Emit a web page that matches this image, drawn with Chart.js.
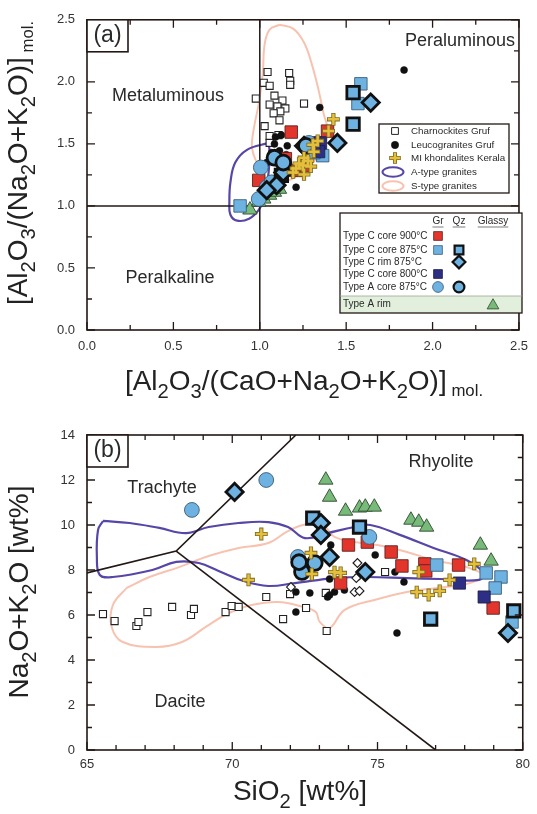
<!DOCTYPE html>
<html>
<head>
<meta charset="utf-8">
<script src="https://cdn.jsdelivr.net/npm/chart.js@4.4.0/dist/chart.umd.min.js"></script>
<style>
  html, body { margin: 0; padding: 0; background: #fff; }
  #wrap { position: relative; width: 537px; height: 814px; }
  canvas { position: absolute; left: 0; }
  #chartA { top: 0; }
  #chartB { top: 400px; }
</style>
</head>
<body>
<div id="wrap">
  <canvas id="chartA" width="537" height="400"></canvas>
  <canvas id="chartB" width="537" height="414"></canvas>
</div>
<script>
// ---------------- panel (a): A/CNK vs A/NK, points are [x, y] ----------------
const aCharnockites = [[1.045,2.079],[1.170,2.071],[1.176,2.008],[1.176,1.976],[1.023,1.992],[1.057,1.968],[0.977,1.865],[1.085,1.889],[1.131,1.849],[1.057,1.817],[1.102,1.802],[1.148,1.786],[1.119,1.762],[1.080,1.746],[1.256,1.825],[1.114,1.690],[1.028,1.643],[1.057,1.563],[1.057,1.508],[1.108,1.571]];
const aLeucogranites = [[1.835,2.095],[1.347,1.794],[1.091,1.556],[1.125,1.571],[1.085,1.500],[1.159,1.484],[1.114,1.444],[1.153,1.413],[1.040,1.349],[1.210,1.151],[1.068,1.429]];
const aKhondalites = [[1.426,1.698],[1.398,1.603],[1.335,1.524],[1.307,1.492],[1.313,1.437],[1.256,1.389],[1.278,1.365],[1.227,1.341],[1.250,1.325],[1.295,1.317],[1.210,1.302],[1.193,1.270],[1.256,1.254]];
const aCore900Gr = [[1.182,1.595],[1.392,1.603],[1.148,1.381],[1.210,1.286],[1.261,1.325],[0.994,1.206],[1.324,1.508]];
const aCore875Gr = [[1.585,1.984],[1.568,1.825],[0.886,1.000],[1.364,1.405],[1.313,1.429]];
const aCore875Qz = [[1.540,1.913],[1.540,1.659],[1.125,1.246]];
const aRim875Qz = [[1.642,1.833],[1.449,1.508],[1.136,1.270],[1.097,1.167],[1.040,1.127],[1.256,1.484]];
const aCore800Gr = [[1.352,1.508],[1.341,1.437],[1.313,1.484]];
const aACoreGr = [[1.006,1.310],[1.040,1.151],[0.994,1.056],[1.068,1.190],[1.284,1.508]];
const aACoreQz = [[1.085,1.389],[1.136,1.349],[1.267,1.484]];
const aARim = [[0.943,0.968],[0.994,1.032],[1.023,1.056],[1.057,1.087],[1.085,1.111],[1.114,1.135]];
const aATypeField = [[1.051,1.508],[0.926,1.452],[0.858,1.349],[0.830,1.190],[0.824,1.032],[0.830,0.929],[0.869,0.881],[0.938,0.897],[0.994,0.968],[1.028,1.071],[1.051,1.270],[1.057,1.429]];
const aSTypeField = [[1.114,2.460],[1.193,2.429],[1.256,2.317],[1.301,2.143],[1.341,1.929],[1.369,1.746],[1.392,1.603],[1.352,1.429],[1.239,1.270],[1.125,1.190],[1.028,1.230],[0.983,1.349],[0.955,1.468],[0.966,1.627],[0.994,1.825],[1.017,2.063],[1.028,2.302],[1.057,2.421]];
const aDivV = [[1, 0], [1, 2.5]];
const aDivH = [[0, 1], [2.5, 1]];

// ---------------- panel (b): SiO2 vs Na2O+K2O ----------------
const bCharnockites = [[65.55,6.04],[65.95,5.73],[66.70,5.51],[66.77,5.69],[67.08,6.13],[67.93,6.36],[68.58,6.00],[68.68,6.27],[69.77,6.13],[69.98,6.40],[70.22,6.36],[71.17,6.80],[71.99,6.93],[71.75,5.82],[72.54,6.31],[73.25,5.29],[75.26,7.91],[73.22,6.98]];
const bLeucogranites = [[72.19,7.02],[72.67,6.98],[72.19,6.13],[73.28,6.80],[73.39,9.11],[73.35,7.60],[73.52,7.02],[73.86,7.11],[74.92,8.67],[75.60,7.91],[75.67,5.20],[75.91,7.47],[73.35,6.89],[74.31,7.69]];
const bKhondalites = [[71.00,9.60],[70.56,7.56],[72.71,8.76],[72.74,7.82],[73.52,7.91],[73.73,7.87],[76.42,7.91],[76.35,7.02],[76.76,6.89],[77.14,7.07],[77.48,7.56],[78.33,8.27]];
const bCore900Gr = [[74.00,9.11],[74.65,9.24],[75.47,8.80],[75.84,8.18],[76.63,8.27],[76.66,7.96],[77.79,8.22],[78.98,6.31],[73.73,7.42]];
const bCore875Gr = [[77.04,8.22],[78.74,7.87],[79.25,7.69],[79.05,7.20],[79.63,5.69]];
const bCore875Qz = [[72.77,10.31],[74.38,9.91],[76.83,5.82],[79.69,6.18]];
const bRim875Qz = [[70.08,11.47],[73.05,10.09],[73.05,9.56],[73.35,8.58],[74.58,7.91],[79.49,5.20]];
const bCore800Gr = [[77.82,7.42],[78.67,6.80]];
const bACoreGr = [[71.17,12.00],[68.61,10.67],[74.72,9.47],[72.26,8.58]];
const bACoreQz = [[72.40,7.91],[72.84,8.31],[72.30,8.35]];
const bARim = [[73.22,12.00],[73.35,11.24],[73.90,10.62],[74.38,10.76],[74.58,10.80],[74.89,10.80],[76.15,10.22],[76.42,10.13],[76.69,9.91],[78.54,9.11],[78.91,8.40]];
const bOpenDiamonds = [[74.31,8.31],[74.27,7.64],[74.21,7.02],[74.38,7.07],[72.02,7.24]];
const bATypeField = [[65.55,10.18],[66.47,10.09],[67.49,9.87],[68.41,9.64],[69.19,9.91],[70.22,10.09],[71.24,10.13],[71.92,9.91],[72.50,9.42],[73.28,9.64],[74.21,9.91],[74.75,10.00],[75.77,9.56],[76.93,8.98],[78.06,8.44],[78.64,7.87],[78.50,7.56],[77.14,7.60],[76.01,7.64],[74.65,7.69],[73.52,7.64],[72.16,7.42],[71.24,7.29],[70.39,7.51],[69.53,7.96],[68.85,8.31],[68.07,8.36],[67.25,8.00],[65.89,7.69],[65.44,7.78],[65.34,8.58],[65.38,9.78]];
const bSTypeField = [[66.36,7.20],[67.15,7.69],[68.17,8.13],[69.19,8.62],[70.22,8.98],[71.24,9.20],[71.92,9.73],[72.60,10.04],[73.18,9.91],[73.52,9.47],[74.21,9.24],[74.99,9.11],[76.01,8.80],[76.93,8.44],[78.06,8.13],[78.64,7.73],[78.06,7.38],[77.04,7.20],[76.01,7.02],[74.89,6.67],[73.86,6.22],[73.35,5.42],[73.01,5.69],[72.88,6.13],[72.43,6.36],[71.58,6.58],[70.66,6.44],[69.88,6.09],[69.09,5.47],[68.27,4.80],[67.39,4.58],[66.23,4.80],[65.85,5.47],[65.89,6.44]];
const bTasUpper = [[65, 7.87], [68.07, 8.84], [72.19, 14]];
const bTasLower = [[68.07, 8.84], [77, 0]];

const FONT = '"Liberation Sans", Arial, Helvetica, sans-serif';
const INK = '#231815';
const RED = '#e3352c', LBLUE = '#6eb2e2', NAVY = '#2d2f84', GREEN = '#77ba79';
const GOLD = '#e4bf3c', GOLD_EDGE = '#7d6a22', PURPLE = '#5546a8', PINK = '#f7c3b0';

function xy(arr) { return arr.map(p => ({ x: p[0], y: p[1] })); }

function pointSet(data, style, r, fill, stroke, lw) {
  return {
    data: xy(data), showLine: false,
    pointStyle: style, pointRadius: r, pointHoverRadius: r,
    pointBackgroundColor: fill, pointBorderColor: stroke,
    pointBorderWidth: lw, pointHoverBorderWidth: lw
  };
}
function lineSet(data, color, lw, tension, closed) {
  const d = closed ? data.concat([data[0]]) : data;
  return {
    data: xy(d), showLine: true, fill: false, tension: tension,
    borderColor: color, borderWidth: lw, pointRadius: 0, pointHoverRadius: 0
  };
}
// crosses: dark underlay + gold stroke
function crossSets(data) {
  return [pointSet(data, 'cross', 5.6, GOLD, GOLD, 2.5), pointSet(data, 'cross', 6.4, GOLD_EDGE, GOLD_EDGE, 4.2)];
}

function marker(ctx, kind, x, y, r, fill, stroke, lw) {
  ctx.save();
  ctx.beginPath();
  if (kind === 'rect') { const s = r * Math.SQRT1_2; ctx.rect(x - s, y - s, 2 * s, 2 * s); }
  else if (kind === 'rectRot') { ctx.moveTo(x, y - r); ctx.lineTo(x + r, y); ctx.lineTo(x, y + r); ctx.lineTo(x - r, y); ctx.closePath(); }
  else if (kind === 'circle') { ctx.arc(x, y, r, 0, Math.PI * 2); }
  else if (kind === 'triangle') {
    for (let i = 0; i < 3; i++) {
      const a = i * 2 * Math.PI / 3;
      const px = x + Math.sin(a) * r, py = y - Math.cos(a) * r;
      i ? ctx.lineTo(px, py) : ctx.moveTo(px, py);
    }
    ctx.closePath();
  }
  else if (kind === 'cross') { ctx.moveTo(x - r, y); ctx.lineTo(x + r, y); ctx.moveTo(x, y - r); ctx.lineTo(x, y + r); }
  else if (kind === 'ellipse') { ctx.ellipse(x, y, r, r * 0.45, 0, 0, Math.PI * 2); }
  if (fill) { ctx.fillStyle = fill; ctx.fill(); }
  if (stroke && lw) { ctx.strokeStyle = stroke; ctx.lineWidth = lw; ctx.stroke(); }
  ctx.restore();
}

// text with subscripts: parts = [text, 'n' | 's' (subscript) | 'm' (small subscript)]
function richText(ctx, parts, x, y, size, rotate) {
  const fs = k => (k === 'n' ? size : k === 's' ? size * 0.72 : size * 0.6);
  const off = k => (k === 'n' ? 0 : k === 's' ? size * 0.3 : size * 0.22);
  ctx.save();
  ctx.translate(x, y);
  if (rotate) ctx.rotate(-Math.PI / 2);
  ctx.textAlign = 'left';
  ctx.textBaseline = 'alphabetic';
  ctx.fillStyle = '#222';
  let w = 0;
  parts.forEach(p => { ctx.font = fs(p[1]) + 'px ' + FONT; w += ctx.measureText(p[0]).width; });
  let cx = -w / 2;
  parts.forEach(p => {
    ctx.font = fs(p[1]) + 'px ' + FONT;
    ctx.fillText(p[0], cx, off(p[1]));
    cx += ctx.measureText(p[0]).width;
  });
  ctx.restore();
}

function label(ctx, text, x, y, size, align) {
  ctx.save();
  ctx.font = size + 'px ' + FONT;
  ctx.fillStyle = '#2a2a2a';
  ctx.textAlign = align || 'center';
  ctx.textBaseline = 'middle';
  ctx.fillText(text, x, y);
  ctx.restore();
}

function frameTicks(chart, xMajor, xMinor, yMajor, yMinor) {
  const { ctx, chartArea: a, scales: { x, y } } = chart;
  ctx.save();
  ctx.strokeStyle = INK;
  ctx.lineWidth = 1.3;
  ctx.beginPath();
  const isMajor = (v, m) => Math.abs(v / m - Math.round(v / m)) < 1e-6;
  for (let v = x.min; v <= x.max + 1e-9; v += xMinor) {
    const len = isMajor(v - x.min, xMajor) ? 8 : 5;
    const px = x.getPixelForValue(v);
    ctx.moveTo(px, a.bottom); ctx.lineTo(px, a.bottom - len);
    ctx.moveTo(px, a.top); ctx.lineTo(px, a.top + len);
  }
  for (let v = y.min; v <= y.max + 1e-9; v += yMinor) {
    const len = isMajor(v - y.min, yMajor) ? 8 : 5;
    const py = y.getPixelForValue(v);
    ctx.moveTo(a.left, py); ctx.lineTo(a.left + len, py);
    ctx.moveTo(a.right, py); ctx.lineTo(a.right - len, py);
  }
  ctx.stroke();
  ctx.lineWidth = 1.6;
  ctx.strokeRect(a.left, a.top, a.right - a.left, a.bottom - a.top);
  ctx.restore();
}

function panelTag(ctx, a, text) {
  ctx.save();
  ctx.fillStyle = '#fff';
  ctx.fillRect(a.left, a.top, 41, 32);
  ctx.strokeStyle = INK; ctx.lineWidth = 1.6;
  ctx.strokeRect(a.left, a.top, 41, 32);
  ctx.restore();
  label(ctx, text, a.left + 20.5, a.top + 16, 23);
}

function scaleOpts(min, max, step, fmt, isY, size, pad) {
  return {
    type: 'linear', min: min, max: max,
    grid: { display: false, drawTicks: false },
    border: { display: false },
    ticks: { stepSize: step, callback: fmt, color: '#333', padding: pad, autoSkip: false, maxRotation: 0,
             font: { family: FONT, size: 13 } },
    afterFit: s => { if (isY) s.width = size; else s.height = size; }
  };
}

const baseOptions = {
  responsive: false, animation: false, events: [],
  plugins: { legend: { display: false }, tooltip: { enabled: false } }
};

// ---------------- chart (a) ----------------
const decorA = {
  id: 'decorA',
  beforeDatasetsDraw(chart) {
    const ctx = chart.ctx;
    label(ctx, 'Peraluminous', 460, 41, 18);
    label(ctx, 'Metaluminous', 168, 96, 18);
    label(ctx, 'Peralkaline', 170, 278, 18);
  },
  afterDraw(chart) {
    const ctx = chart.ctx, a = chart.chartArea;
    frameTicks(chart, 0.5, 0.25, 0.5, 0.25);
    panelTag(ctx, a, '(a)');

    // legend of reference data
    ctx.save();
    ctx.fillStyle = '#fff'; ctx.fillRect(379, 124, 130, 69);
    ctx.strokeStyle = INK; ctx.lineWidth = 1.3; ctx.strokeRect(379, 124, 130, 69);
    ctx.restore();
    marker(ctx, 'rect', 395, 131, 4.8, '#fff', '#222', 1);
    marker(ctx, 'circle', 395, 145, 3.7, '#111', '#111', 0.5);
    marker(ctx, 'cross', 395, 158, 5.8, null, GOLD_EDGE, 4);
    marker(ctx, 'cross', 395, 158, 5.1, null, GOLD, 2.3);
    marker(ctx, 'ellipse', 393, 172, 10.5, null, PURPLE, 2);
    marker(ctx, 'ellipse', 393, 186, 10.5, null, PINK, 2);
    ['Charnockites Gruf', 'Leucogranites Gruf', 'MI khondalites Kerala', 'A-type granites', 'S-type granites']
      .forEach((t, i) => label(ctx, t, 411, [131, 145, 158, 172, 186][i], 9.8, 'left'));

    // legend of inclusion types
    ctx.save();
    ctx.fillStyle = '#fff'; ctx.fillRect(340, 213, 182, 100);
    ctx.fillStyle = '#e1efdc'; ctx.fillRect(340, 296, 182, 17);
    ctx.strokeStyle = INK; ctx.lineWidth = 1.3; ctx.strokeRect(340, 213, 182, 100);
    ctx.strokeStyle = '#9aa894'; ctx.lineWidth = 0.8;
    ctx.beginPath(); ctx.moveTo(340, 296); ctx.lineTo(522, 296); ctx.stroke();
    ctx.restore();
    const hdr = [['Gr', 438], ['Qz', 459], ['Glassy', 493]];
    ctx.save();
    ctx.font = '10px ' + FONT;
    ctx.strokeStyle = '#444'; ctx.lineWidth = 0.7;
    hdr.forEach(h => {
      label(ctx, h[0], h[1], 221, 10);
      const w = ctx.measureText(h[0]).width;
      ctx.beginPath(); ctx.moveTo(h[1] - w / 2, 227); ctx.lineTo(h[1] + w / 2, 227); ctx.stroke();
    });
    ctx.restore();
    const rows = [236, 250, 262, 274, 287];
    ['Type C core 900\u00b0C', 'Type C core 875\u00b0C', 'Type C rim 875\u00b0C', 'Type C core 800\u00b0C', 'Type A core 875\u00b0C']
      .forEach((t, i) => label(ctx, t, 343, rows[i], 10, 'left'));
    label(ctx, 'Type A rim', 343, 304.5, 10, 'left');
    marker(ctx, 'rect', 438, rows[0], 6.2, RED, '#5b2320', 0.8);
    marker(ctx, 'rect', 438, rows[1], 6.2, LBLUE, '#3a5f7a', 0.8);
    marker(ctx, 'rect', 459, rows[1], 6.2, LBLUE, '#111', 2.2);
    marker(ctx, 'rectRot', 459, rows[2], 6.4, LBLUE, '#111', 2.2);
    marker(ctx, 'rect', 438, rows[3], 6.2, NAVY, '#1a1a40', 0.8);
    marker(ctx, 'circle', 438, rows[4], 5.4, LBLUE, '#3c5a73', 0.8);
    marker(ctx, 'circle', 459, rows[4], 5.4, LBLUE, '#111', 2.2);
    marker(ctx, 'triangle', 493, 305.5, 6.8, GREEN, '#2f4a2f', 0.8);

    // axis titles
    richText(ctx, [['[Al', 'n'], ['2', 's'], ['O', 'n'], ['3', 's'], ['/(CaO+Na', 'n'], ['2', 's'], ['O+K', 'n'], ['2', 's'], ['O)]', 'n'], [' mol.', 'm']],
      304, 390, 28, false);
    richText(ctx, [['[Al', 'n'], ['2', 's'], ['O', 'n'], ['3', 's'], ['/(Na', 'n'], ['2', 's'], ['O+K', 'n'], ['2', 's'], ['O)]', 'n'], [' mol.', 'm']],
      27, 163, 28, true);
  }
};

new Chart(document.getElementById('chartA'), {
  type: 'scatter',
  data: {
    datasets: [
      ...crossSets(aKhondalites),
      pointSet(aACoreQz, 'circle', 7.4, LBLUE, '#111', 2.8),
      pointSet(aRim875Qz, 'rectRot', 8.6, LBLUE, '#111', 2.8),
      pointSet(aCore875Qz, 'rect', 8.8, LBLUE, '#111', 2.8),
      pointSet(aCore800Gr, 'rect', 8.6, NAVY, '#1a1a40', 0.8),
      pointSet(aACoreGr, 'circle', 7.4, LBLUE, '#3c5a73', 0.9),
      pointSet(aCore875Gr, 'rect', 8.8, LBLUE, '#3a5f7a', 0.9),
      pointSet(aCore900Gr, 'rect', 8.8, RED, '#5b2320', 0.9),
      pointSet(aARim, 'triangle', 8.3, GREEN, '#2f4a2f', 0.9),
      pointSet(aLeucogranites, 'circle', 3.5, '#111', '#111', 0.5),
      pointSet(aCharnockites, 'rect', 5, '#fff', '#222', 1.1),
      lineSet(aDivV, INK, 1.5, 0, false),
      lineSet(aDivH, INK, 1.5, 0, false),
      lineSet(aATypeField, PURPLE, 2.2, 0.4, true),
      lineSet(aSTypeField, PINK, 2, 0.4, true)
    ]
  },
  options: Object.assign({}, baseOptions, {
    layout: { padding: { top: 15, right: 10, left: 0, bottom: 0 } },
    scales: {
      x: scaleOpts(0, 2.5, 0.5, v => v.toFixed(1), false, 70, 9),
      y: scaleOpts(0, 2.5, 0.5, v => v.toFixed(1), true, 87, 12)
    }
  }),
  plugins: [decorA]
});

// ---------------- chart (b) ----------------
const decorB = {
  id: 'decorB',
  beforeDatasetsDraw(chart) {
    const ctx = chart.ctx;
    label(ctx, 'Trachyte', 162, 88, 18);
    label(ctx, 'Rhyolite', 441, 62, 18);
    label(ctx, 'Dacite', 180, 302, 18);
  },
  afterDraw(chart) {
    const ctx = chart.ctx, a = chart.chartArea;
    frameTicks(chart, 5, 1, 2, 1);
    panelTag(ctx, a, '(b)');
    richText(ctx, [['SiO', 'n'], ['2', 's'], [' [wt%]', 'n']], 300, 400, 28, false);
    richText(ctx, [['Na', 'n'], ['2', 's'], ['O+K', 'n'], ['2', 's'], ['O [wt%]', 'n']], 28, 192, 28, true);
  }
};

new Chart(document.getElementById('chartB'), {
  type: 'scatter',
  data: {
    datasets: [
      ...crossSets(bKhondalites),
      pointSet(bACoreQz, 'circle', 7.4, LBLUE, '#111', 2.8),
      pointSet(bRim875Qz, 'rectRot', 8.6, LBLUE, '#111', 2.8),
      pointSet(bCore875Qz, 'rect', 8.8, LBLUE, '#111', 2.8),
      pointSet(bCore800Gr, 'rect', 8.6, NAVY, '#1a1a40', 0.8),
      pointSet(bACoreGr, 'circle', 7.4, LBLUE, '#3c5a73', 0.9),
      pointSet(bCore875Gr, 'rect', 8.8, LBLUE, '#3a5f7a', 0.9),
      pointSet(bCore900Gr, 'rect', 8.8, RED, '#5b2320', 0.9),
      pointSet(bARim, 'triangle', 8.3, GREEN, '#2f4a2f', 0.9),
      pointSet(bOpenDiamonds, 'rectRot', 4.4, '#fff', '#222', 1.2),
      pointSet(bLeucogranites, 'circle', 3.5, '#111', '#111', 0.5),
      pointSet(bCharnockites, 'rect', 5, '#fff', '#222', 1.1),
      lineSet(bTasUpper, INK, 1.6, 0, false),
      lineSet(bTasLower, INK, 1.6, 0, false),
      lineSet(bATypeField, PURPLE, 2.2, 0.4, true),
      lineSet(bSTypeField, PINK, 2, 0.4, true)
    ]
  },
  options: Object.assign({}, baseOptions, {
    layout: { padding: { top: 35, right: 10, left: 0, bottom: 0 } },
    scales: {
      x: scaleOpts(65, 80, 5, v => String(v), false, 64, 7),
      y: scaleOpts(0, 14, 2, v => String(v), true, 87, 12)
    }
  }),
  plugins: [decorB]
});
</script>
</body>
</html>
